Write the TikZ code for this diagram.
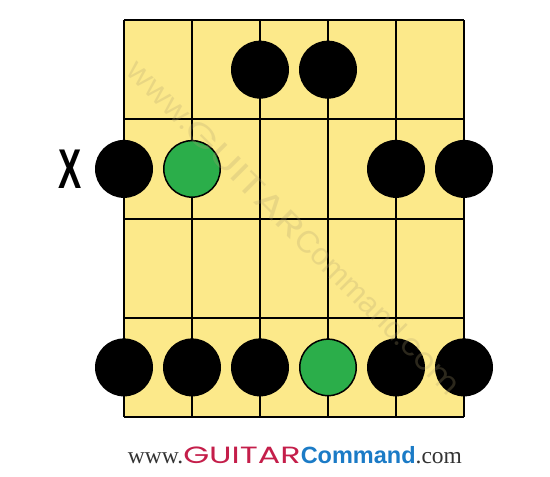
\documentclass[tikz,border=0pt]{standalone}
\usepackage{fontspec}
\setmainfont{Liberation Serif}
\newfontfamily\gcfont{Poppins}
\newfontfamily\cmdfont{Liberation Sans}
\usetikzlibrary{positioning}
\definecolor{fretyellow}{HTML}{FCE98A}
\definecolor{rootgreen}{HTML}{2BAE4A}
\definecolor{gcred}{HTML}{C41E4A}
\definecolor{gcblue}{HTML}{1B7BC6}
\definecolor{gcgray}{HTML}{333333}
\definecolor{wmark}{HTML}{B0A070}
\tikzset{%
	note/.style     = {circle, fill=black, minimum size=58pt, inner sep=0pt},
	root/.style     = {circle, draw=black, line width=1.5pt, fill=rootgreen, minimum size=56.5pt, inner sep=0pt},
	fretline/.style = {line width=2pt},
}
% logo text: colours of www./.com, GUITAR, Command
\newcommand{\gclogo}[3]{{\color{#1}www.}{\gcfont\color{#2}\scalebox{1.42}[1]{GUITAR}}{\cmdfont\bfseries\color{#3}Command}{\color{#1}.com}}
\newcommand{\gcwmark}{\gcfont www.\scalebox{1.42}[1]{GUITAR}{\cmdfont Command}.com}

\begin{document}
\begin{tikzpicture}[x=1pt,y=-1pt]
		\useasboundingbox (0,0) rectangle (550,477);
		% fretboard
		\fill[fretyellow] (124,20) rectangle (464,417);
		\foreach \j in {0,...,4} \draw[fretline] (124,20+99.25*\j) -- (464,20+99.25*\j);
		\foreach \i in {0,...,5} \draw[fretline] (124+68*\i,20) -- (124+68*\i,417);
		
		% notes
		\foreach \s/\f/\kind in {3/1/note,4/1/note,1/2/note,2/2/root,5/2/note,6/2/note,1/4/note,2/4/note,3/4/note,4/4/root,5/4/note,6/4/note}
			\node[\kind] (n\s\f) at (124+68*\s-68,20+99.25*\f-49.6) {};
		
		% watermark
		\node[rotate=-45, text=wmark, text opacity=0.25, font=\fontsize{31}{31}\selectfont] (wmark) at (294,227) {\gcwmark};
		
		% muted string
		\node[font=\cmdfont\bfseries\fontsize{56}{56}\selectfont, xscale=0.62, inner sep=0pt, left=13pt of n12] (mute) {X};
		
		% footer
		\node[anchor=base, font=\fontsize{23.5}{23.5}\selectfont] (logo) at (295,463) {\gclogo{gcgray}{gcred}{gcblue}};
\end{tikzpicture}
\end{document}
